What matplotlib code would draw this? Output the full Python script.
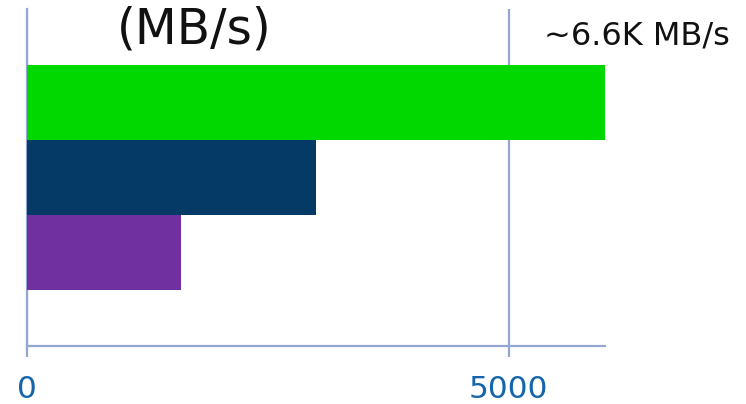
import matplotlib
matplotlib.use("Agg")
import matplotlib.pyplot as plt

categories = ["A", "B", "C"]
values = [6600, 3000, 1600]
colors = ["#00d800", "#063a66", "#7030a0"]
xticks = [0, 5000]
xtick_labels = ["0", "5000"]
title = "(MB/s)"
note = "~6.6K MB/s"

fig = plt.figure(figsize=(7.46, 4.04), dpi=100)
ax = fig.add_axes([27/746, 58/404, 578/746, 337/404])

pos = list(range(len(categories)))
ax.barh(pos, values, height=1.0, color=colors, zorder=3)
ax.set_xlim(0, 6000)
ax.set_ylim(len(categories) - 0.5 + 0.747, -0.5 - 0.747)

gc = "#94a7d2"
for s in ["top", "right"]:
    ax.spines[s].set_visible(False)
for s in ["bottom", "left"]:
    ax.spines[s].set_color(gc)
    ax.spines[s].set_linewidth(1.6)
ax.set_yticks([])
ax.set_xticks(xticks)
ax.set_xticklabels(xtick_labels, fontsize=22.5, color="#1565ad", family="DejaVu Sans")
ax.tick_params(axis="x", length=8, width=1.6, color=gc, pad=13)
ax.grid(axis="x", color=gc, linewidth=1.6, zorder=1)
ax.set_axisbelow(True)

fig.text(194/746, 1 - 43/404, title, fontsize=35, ha="center", va="baseline",
         family="DejaVu Sans", color="#111111")
fig.text(637/746, 1 - 45/404, note, fontsize=23, ha="center", va="baseline",
         family="DejaVu Sans", color="#111111")

fig.savefig("out.png", dpi=100)
